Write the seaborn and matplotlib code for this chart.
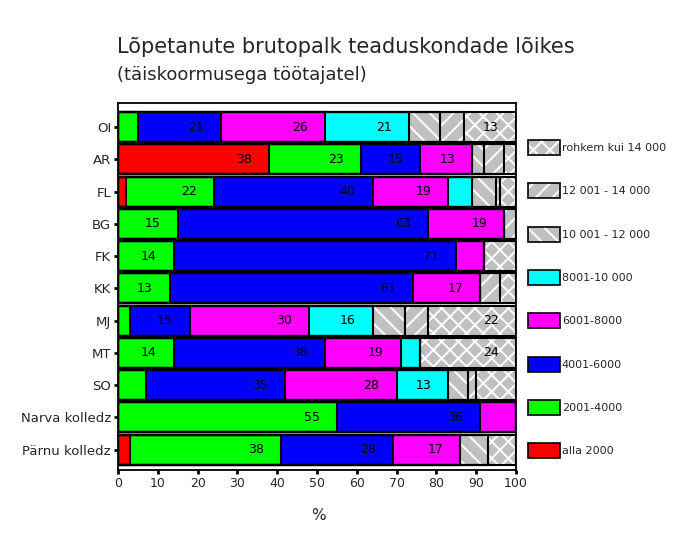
import matplotlib
matplotlib.use("Agg")
import matplotlib.pyplot as plt
import seaborn as sns
import numpy as np
import pandas as pd
from matplotlib.patches import Patch

categories = ["OI", "AR", "FL", "BG", "FK", "KK", "MJ", "MT", "SO",
              "Narva kolledz", "Pärnu kolledz"]

series_labels = ["alla 2000", "2001-4000", "4001-6000", "6001-8000",
                 "8001-10 000", "10 001 - 12 000", "12 001 - 14 000",
                 "rohkem kui 14 000"]

alla_2000 = [0, 38, 2, 0, 0, 0, 0, 0, 0, 0, 3]
s_2001_4000 = [5, 23, 22, 15, 14, 13, 3, 14, 7, 55, 38]
s_4001_6000 = [21, 15, 40, 63, 71, 61, 15, 38, 35, 36, 28]
s_6001_8000 = [26, 13, 19, 19, 7, 17, 30, 19, 28, 9, 17]
s_8001_10000 = [21, 0, 6, 0, 0, 0, 16, 5, 13, 0, 0]
s_10001_12000 = [8, 3, 6, 0, 0, 0, 8, 0, 5, 0, 7]
s_12001_14000 = [6, 5, 1, 3, 0, 5, 6, 0, 2, 0, 0]
rohkem_14000 = [13, 3, 4, 0, 8, 4, 22, 24, 10, 0, 7]

series = [alla_2000, s_2001_4000, s_4001_6000, s_6001_8000, s_8001_10000,
          s_10001_12000, s_12001_14000, rohkem_14000]

colors = ["#FF0000", "#00FF00", "#0000FF", "#FF00FF", "#00FFFF",
          "#C0C0C0", "#C0C0C0", "#C0C0C0"]
hatches = [None, None, None, None, None, "\\\\", "//", "xx"]

sns.set_style("white")
plt.rcParams["font.family"] = ["DejaVu Sans"]
plt.rcParams["hatch.linewidth"] = 1.4

fig = plt.figure(figsize=(6.84, 5.49), dpi=100)
ax = fig.add_axes([118 / 684, 1 - 470 / 549, (516 - 118) / 684, (470 - 103) / 549])

vals = np.array(series, dtype=float)  # shape (8, 11)
cum = np.cumsum(vals, axis=0)

BAR_W = 0.93
# draw cumulative bars from the largest down so each segment shows
for i in range(len(series) - 1, -1, -1):
    df = pd.DataFrame({"cat": categories, "val": cum[i]})
    if hatches[i] is None:
        sns.barplot(data=df, x="val", y="cat", orient="h", color=colors[i],
                    saturation=1, width=BAR_W, errorbar=None,
                    edgecolor="black", linewidth=0, ax=ax)
    else:
        sns.barplot(data=df, x="val", y="cat", orient="h", color=colors[i],
                    saturation=1, width=BAR_W, errorbar=None,
                    edgecolor="white", linewidth=0, hatch=hatches[i], ax=ax)

# outlines of every segment border
for i in range(len(series)):
    df = pd.DataFrame({"cat": categories, "val": cum[i]})
    sns.barplot(data=df, x="val", y="cat", orient="h", color="black",
                fill=False, width=BAR_W, errorbar=None, linewidth=1.5, ax=ax)

# value labels
for i in range(len(series)):
    for j in range(len(categories)):
        v = vals[i, j]
        if v >= 13:
            ax.text(cum[i, j] - 4.3, j, f"{int(v)}", ha="right", va="center",
                    fontsize=9, color="black")

ax.set_xlim(0, 100)
ax.set_ylim(len(categories) - 1 + 0.63, -0.75)
ax.set_xticks(np.arange(0, 101, 10))
ax.set_xlabel("")
ax.set_ylabel("")
for sp in ax.spines.values():
    sp.set_visible(True)
    sp.set_color("black")
    sp.set_linewidth(1.3)
ax.tick_params(axis="both", direction="out", length=3, width=2,
               color="black", labelsize=9, pad=2, left=True, bottom=True)
ax.tick_params(axis="y", labelsize=9.5)

# legend
handles = []
for i in range(len(series) - 1, -1, -1):
    if hatches[i] is None:
        handles.append(Patch(facecolor=colors[i], edgecolor="black", linewidth=1.2))
    else:
        handles.append((Patch(facecolor=colors[i], edgecolor="white", linewidth=0,
                              hatch=hatches[i]),
                        Patch(facecolor="none", edgecolor="black", linewidth=1.2)))
labels = series_labels[::-1]
fig.legend(handles, labels, loc="upper left",
           bbox_to_anchor=(528 / 684, 1 - 140 / 549), frameon=False,
           fontsize=8, handlelength=2.9, handleheight=1.7, labelspacing=2.55,
           handletextpad=0.15, borderpad=0, borderaxespad=0)

fig.text(117 / 684, 1 - 47 / 549, "Lõpetanute brutopalk teaduskondade lõikes",
         ha="left", va="center", fontsize=15)
fig.text(117 / 684, 1 - 75 / 549, "(täiskoormusega töötajatel)",
         ha="left", va="center", fontsize=13)
fig.text(318 / 684, 1 - 515 / 549, "%", ha="center", va="center", fontsize=11)

fig.savefig("out.png", dpi=100)
